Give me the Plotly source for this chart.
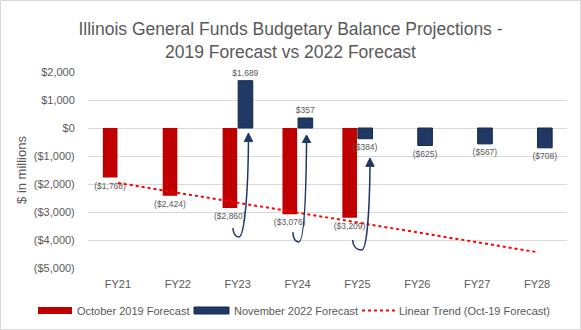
import numpy as np
import plotly.graph_objects as go

# Fiscal years and forecast values ($ millions)
fiscal_years = ["FY21", "FY22", "FY23", "FY24", "FY25", "FY26", "FY27", "FY28"]
oct_2019 = [-1768, -2424, -2860, -3076, -3209, None, None, None]
nov_2022 = [None, None, 1689, 357, -384, -625, -567, -708]
y_ticks = [2000, 1000, 0, -1000, -2000, -3000, -4000, -5000]

RED = "#C00000"
NAVY = "#1F3864"
GREY = "#595959"
FONT = "Liberation Sans"


def money(v):
    s = "${:,.0f}".format(abs(v))
    return "(" + s + ")" if v < 0 else s


def label_list(vals):
    return [money(v) if v is not None else "" for v in vals]


xs = list(range(len(fiscal_years)))

# Linear trend fitted to the October 2019 forecast, extended over all years
fit_x = [i for i, v in enumerate(oct_2019) if v is not None]
fit_y = [v for v in oct_2019 if v is not None]
slope, intercept = np.polyfit(fit_x, fit_y, 1)
trend = [slope * i + intercept for i in xs]

fig = go.Figure()
fig.add_trace(go.Bar(
    x=xs, y=oct_2019, name="October 2019 Forecast",
    marker=dict(color=RED, line=dict(width=0)),
    text=label_list(oct_2019), textposition="outside", constraintext="none",
    textfont=dict(size=8.5, color=GREY, family=FONT), cliponaxis=False,
))
fig.add_trace(go.Bar(
    x=xs, y=nov_2022, name="November 2022 Forecast",
    marker=dict(color=NAVY, line=dict(width=1, color="#172a4d")),
    text=label_list(nov_2022), textposition="outside", constraintext="none",
    textfont=dict(size=8.5, color=GREY, family=FONT), cliponaxis=False,
))
fig.add_trace(go.Scatter(
    x=xs, y=trend, mode="lines", name="Linear Trend (Oct-19 Forecast)",
    line=dict(color="#FF0000", width=2, dash="dot"),
))

shapes = []
# Curved arrows linking the 2019 shortfalls to the 2022 figures
arrows = [
    # start, lowest point, tip (x in category units, y in $ millions)
    dict(s=(1.92, -3570), b=(2.02, -3890), t=(2.18, -180), h=300),
    dict(s=(2.92, -3720), b=(3.02, -4070), t=(3.15, -250), h=270),
    dict(s=(3.92, -4000), b=(4.07, -4360), t=(4.21, -1070), h=300),
]
for a in arrows:
    sx, sy = a["s"]
    bx, by = a["b"]
    tx, ty = a["t"]
    base = ty - a["h"]
    path = (f"M {sx},{sy} C {sx+0.01},{by+60} {bx-0.05},{by} {bx},{by} "
            f"C {bx+0.08},{by} {tx-0.01},{by+1200} {tx},{base}")
    shapes.append(dict(type="path", path=path, xref="x", yref="y",
                       line=dict(color=NAVY, width=1.5), layer="above"))
    hw = 0.07
    shapes.append(dict(type="path",
                       path=f"M {tx},{ty} L {tx-hw},{base} L {tx+hw},{base} Z",
                       xref="x", yref="y", fillcolor=NAVY,
                       line=dict(color=NAVY, width=1), layer="above"))

# Chart border
L, R, T, B = 88, 14, 72, 62
W, H = 581, 330
pw, ph = W - L - R, H - T - B


def px_x(px):
    return (px - L) / pw


def px_y(py):
    return (H - B - py) / ph


shapes.append(dict(type="rect", xref="paper", yref="paper",
                   x0=px_x(0.5), x1=px_x(580.5), y0=px_y(329.5), y1=px_y(0.5),
                   line=dict(color="#D9D9D9", width=1), layer="below"))

# Legend drawn by hand with wide swatches
annotations = []
leg_y = 310.5
shapes.append(dict(type="rect", xref="paper", yref="paper",
                   x0=px_x(38), x1=px_x(72), y0=px_y(314), y1=px_y(307),
                   fillcolor=RED, line=dict(width=0)))
shapes.append(dict(type="rect", xref="paper", yref="paper",
                   x0=px_x(194), x1=px_x(229), y0=px_y(314), y1=px_y(307),
                   fillcolor=NAVY, line=dict(color="#172a4d", width=1)))
shapes.append(dict(type="line", xref="paper", yref="paper",
                   x0=px_x(362), x1=px_x(395), y0=px_y(leg_y), y1=px_y(leg_y),
                   line=dict(color="#FF0000", width=2, dash="dot")))
for x0, txt in [(75, "October 2019 Forecast"), (232, "November 2022 Forecast"),
                (397, "Linear Trend (Oct-19 Forecast)")]:
    annotations.append(dict(xref="paper", yref="paper", x=px_x(x0), y=px_y(leg_y),
                            xanchor="left", yanchor="middle", showarrow=False,
                            text=txt, font=dict(size=11, color=GREY, family=FONT)))

fig.update_layout(
    width=W, height=H,
    margin=dict(l=L, r=R, t=T, b=B),
    paper_bgcolor="white", plot_bgcolor="white",
    barmode="group", bargap=0.48, bargroupgap=0.06,
    showlegend=False,
    title=dict(
        text="Illinois General Funds Budgetary Balance Projections -<br>2019 Forecast vs 2022 Forecast",
        x=0.5, xanchor="center", y=1 - 35 / H, yanchor="middle", yref="container",
        font=dict(size=17.5, color=GREY, family=FONT),
    ),
    font=dict(family=FONT, color=GREY),
    xaxis=dict(
        tickvals=xs, ticktext=fiscal_years, range=[-0.5, len(xs) - 0.5],
        showgrid=False, zeroline=False, showline=False,
        ticks="outside", ticklen=6, tickcolor="rgba(0,0,0,0)",
        tickfont=dict(size=11, color=GREY, family=FONT),
    ),
    yaxis=dict(
        range=[-5000, 2000], tickvals=y_ticks, ticktext=[money(v) for v in y_ticks],
        showgrid=True, gridcolor="#D9D9D9", gridwidth=1,
        zeroline=False, showline=False,
        ticks="outside", ticklen=10, tickcolor="rgba(0,0,0,0)",
        tickfont=dict(size=11, color=GREY, family=FONT),
        title=dict(text="$ in millions", font=dict(size=13, color=GREY, family=FONT), standoff=4),
    ),
    shapes=shapes,
    annotations=annotations,
)

fig.write_html("out.html")
